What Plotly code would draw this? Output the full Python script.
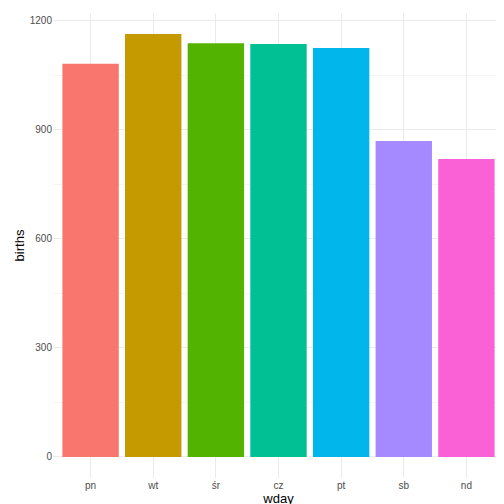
import plotly.graph_objects as go

days = ["pn", "wt", "śr", "cz", "pt", "sb", "nd"]
births = [1082, 1164, 1139, 1137, 1126, 870, 820]
colors = ["#F8766D", "#C49A00", "#53B400", "#00C094", "#00B6EB", "#A58AFF", "#FB61D7"]

fig = go.Figure(go.Bar(x=days, y=births, marker=dict(color=colors, line=dict(width=0)), width=0.9))
fig.update_layout(
    width=504, height=504, plot_bgcolor="white", paper_bgcolor="white",
    margin=dict(l=45, r=8, t=5, b=34, pad=0), showlegend=False,
    font=dict(family="Liberation Sans", size=12, color="#4D4D4D"),
)
fig.update_xaxes(title=dict(text="wday", font=dict(size=13, color="black"), standoff=2),
                 showgrid=True, gridcolor="#EBEBEB", ticks="", tickfont=dict(size=10), range=[-0.6, 6.6],
                 automargin=False)
fig.update_yaxes(title=dict(text="births", font=dict(size=13, color="black"), standoff=2),
                 range=[-58, 1222], tickvals=[0, 300, 600, 900, 1200], showgrid=True, gridcolor="#EBEBEB",
                 zeroline=False, tickfont=dict(size=10), automargin=False,
                 minor=dict(tickvals=[150, 450, 750, 1050], showgrid=True, gridcolor="#F5F5F5"))
fig.write_html("out.html")
